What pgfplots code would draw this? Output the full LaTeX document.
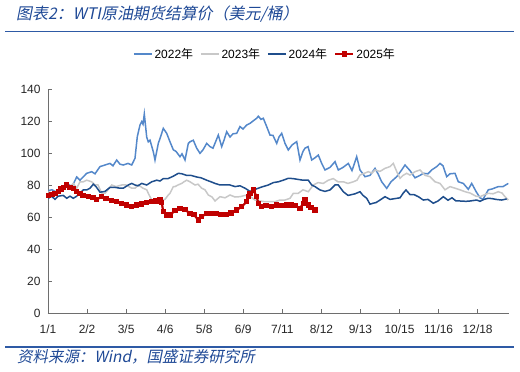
\documentclass[border=0pt]{standalone}
\usepackage{fontspec}
\setmainfont{Liberation Sans}
\newfontfamily\cjk{Noto Sans CJK SC}
\newfontfamily\cjkit[FakeSlant=0.2]{Noto Sans CJK SC}
\usepackage{pgfplots}
\pgfplotsset{compat=1.18}

\definecolor{c22}{RGB}{84,136,202}
\definecolor{c23}{RGB}{200,200,200}
\definecolor{c24}{RGB}{31,78,140}
\definecolor{c25}{RGB}{192,0,0}
\definecolor{titleblue}{RGB}{31,73,150}
\definecolor{rulecol}{RGB}{46,90,165}
\definecolor{axisgray}{RGB}{110,110,110}

\begin{document}
\begin{tikzpicture}
\begin{axis}[
  at={(48bp,59bp)}, anchor=south west,
  scale only axis, width=461bp, height=224bp,
  xmin=0, xmax=461, ymin=0, ymax=140,
  axis x line*=bottom, axis y line*=left,
  axis line style={axisgray, line width=0.8bp},
  tick style={axisgray, line width=0.8bp},
  tick align=inside, major tick length=4bp,
  ytick={0,20,...,140},
  xtick={0,39.06,78.12,117.18,156.24,195.3,234.36,273.42,312.48,351.54,390.6,429.66},
  xticklabels={1/1,2/2,3/5,4/6,5/8,6/9,7/11,8/12,9/13,10/15,11/16,12/18},
  ticklabel style={font=\fontsize{12}{14}\selectfont, text=black!85},
  xticklabel shift=8bp, yticklabel shift=4bp,
  /pgf/number format/assume math mode=true,
  legend style={at={(0.4707,1.156)}, anchor=center, draw=none, fill=none,
    legend columns=4, font=\fontsize{12}{14}\selectfont,
    /tikz/every even column/.append style={column sep=5bp}},
  legend image code/.code={\draw[mark repeat=2,mark phase=2,#1] plot coordinates {(0bp,0bp) (9bp,0bp) (18bp,0bp)};},
]
\addplot[c22, line width=1.5bp] coordinates {
(0.3,76.5) (4,77) (10,75) (15,77) (18.7,81) (24,79) (28.7,85) (32,83) (38.7,87.3) (43.7,88.3)
(47,87) (52,91.5) (57,92.5) (62,93.5) (65,92) (68.7,95.6) (72,93) (75.3,92.5) (80,93.5) (83.7,92.5)
(87,96.7) (89.3,110.2) (92,117.5) (93.7,119.6) (95,118) (96.3,124.4) (98.7,110) (100.3,107) (102,108) (105.3,100.8)
(107,95.6) (110.3,106) (112.5,110) (115.3,115.4) (118.7,112.3) (122,107) (125.3,102) (128,101) (132,97.7) (134,99.5)
(137,95.6) (140.3,106) (142,107) (145.3,108) (148.7,103) (152,99.8) (155,102) (158.7,106) (162,104) (165,103)
(170.3,111.2) (173.7,104) (176,108) (178.7,113.3) (182,110) (185,112) (188.7,112.3) (192,116.5) (195,115) (198.7,117.5)
(202,118.5) (205,120) (208.7,121.7) (210.3,123) (213,121) (215.3,121.7) (218.7,116.5) (222,111.2) (225,111) (228.7,106)
(231,110) (233.7,112.3) (237,106) (240.3,101.9) (244,105) (248.7,107.1) (252,95.6) (255,101) (257,103) (260,104)
(263.7,95.6) (267,97) (270.3,98.7) (273.7,93.5) (277,89.4) (282,91) (287,94.6) (290.3,89.4) (295,91) (300.3,93.5)
(304,89) (308.7,97.7) (312,89.4) (317,85.2) (322,86) (327,90.4) (330,87) (333.7,82) (338.7,77.9) (343,82)
(348.7,85.2) (353.7,89.4) (357,92.5) (362,89) (367,84.5) (372,86) (375.3,87.3) (380,87) (383.7,89.4) (388.7,91.5)
(392,93.5) (395,92) (398.7,85.2) (402,87) (407,87.3) (410.3,82) (415.3,81) (420.3,77.3) (423.7,81) (428,76)
(432,72) (435,71) (440.3,77) (444,77.5) (450.3,79) (455,79) (460.3,81)
};
\addlegendentry{2022{\cjk 年}}
\addplot[c23, line width=1.5bp] coordinates {
(0.3,75.8) (5,74.8) (10,77) (14,78) (18.7,80) (22,79) (25.3,81) (28.7,78) (32,82) (35.3,82)
(38.7,83) (43.7,82) (47,80) (50,80) (53.7,75) (57,74.8) (60,77) (63.7,80) (68,79) (73.7,80)
(78,80) (83.7,78) (87,78) (90.3,80) (95,78) (98.7,77) (100.3,74.8) (103.7,70.6) (107,68.6) (110,68.6)
(113.7,70.6) (117,71) (120.3,73.75) (122,74.8) (125.3,79) (127,79) (130,80) (133.7,81) (136,82) (138.7,83)
(142,82) (147,80) (150,80.5) (153.7,78) (157,77) (160.3,73.75) (164,72.5) (167,70) (172,72.7) (177,72)
(182,73.75) (187,72.5) (192,72.7) (197,73.5) (202,73) (207,70.6) (212,70) (217,69.6) (222,69.6) (227,69.6)
(232,70.6) (237,70.6) (242,71.7) (245.3,74.8) (250.3,74.8) (255,77) (260.3,75.8) (265.3,80) (270,81.5) (275.3,81)
(280.3,83) (285.3,84) (290,82) (295.3,82) (300,81) (305.3,82) (309,83) (312,86.2) (317,87.5) (320.3,88.3)
(324,87.5) (327,89.4) (332,88.5) (337,90.4) (342,91.5) (345.3,93.5) (349,88) (352,84.2) (355,86) (358.7,87.3)
(362,86.2) (367,88.3) (372,89.4) (377,86) (382,85.2) (387,82) (392,81) (397,77) (402,79) (407,78)
(412,77) (417,75.8) (422,75) (428,73) (432,72.7) (436,73.8) (440.3,74.8) (445,74.5) (450.3,75.8) (454,75)
(457,72.7) (460.3,70.6)
};
\addlegendentry{2023{\cjk 年}}
\addplot[c24, line width=1.5bp] coordinates {
(0.3,71.7) (3.7,73) (7,71) (10,73) (15.3,73.5) (18.7,71.7) (22,73) (25.3,71.7) (28.7,73) (32,75)
(35.3,76.9) (39,77) (42,78) (45.3,80.5) (48,79) (52,75.5) (57,76) (62,78.5) (67,78.5) (72,78)
(75.3,78) (80.3,80) (83.7,81) (87,80) (90,79.5) (93.7,81) (98.7,80) (103.7,82) (108.7,83) (112,82.5)
(115.3,84) (120,84) (125.3,85.5) (130.3,87.3) (134,87) (138.7,86) (143,86) (148.7,85) (153,84.5) (158.7,83)
(163,82) (167,81) (172,80) (177,80) (182,80) (187,79) (192,79.5) (197,78) (202,76) (206,77)
(210.3,78) (215,79) (220.3,80) (225.3,81.5) (230.3,82) (235.3,83) (240.3,84.2) (245,84) (250,83.5) (255,83)
(260.3,83) (263.7,80) (267,79) (272,76.9) (277,76) (282,76.9) (287,80) (290.3,80) (295.3,75.8) (300,73.5)
(302,73.75) (307,74.5) (312,75.8) (315,73.5) (318.7,71.7) (322,68) (325,68.6) (328,69) (332,70.6) (337,72.7)
(342,71) (347,71.5) (352,72) (355.3,75) (358,76.9) (362,74) (366,74) (370.3,72.7) (375.3,70.6) (380,71)
(385.3,68.6) (390,70) (395.3,72.7) (400,70.5) (404,72) (408,70) (412,70) (418,69.8) (422,70) (428.7,70.6)
(432,69.8) (436,71) (440,71.7) (444,71.5) (448,71) (453.7,70.6) (458.7,71.3)
};
\addlegendentry{2024{\cjk 年}}
\addplot[c25, line width=2.2bp, mark=square*, mark size=1.5bp, mark options={solid, fill=c25, draw=c25}] coordinates {
(0.3,73.5) (4,74) (7,74.5) (10.3,76) (13,77.5) (15.3,78.5) (18.7,80) (22,78.5) (25.3,78) (28.7,75.8)
(32,74.5) (35,73.5) (40.3,72.7) (45,72) (48.7,71) (53.7,72.7) (58,71.5) (63.7,70.3) (68.7,69.6) (73.7,68.6)
(78.7,67.5) (83.7,66.4) (88.7,67.5) (93.7,68.1) (98.7,69) (103.7,69.6) (108,70) (112,70.6) (113.7,69) (115.3,63.3)
(118.7,61.25) (122,61.3) (127,64) (132,65.4) (137,64.5) (142,62.3) (146,61.5) (150.3,58.1) (153.7,60.2) (158.7,62.3)
(163,62.3) (168.7,62.3) (173,61.5) (178.7,61.5) (183,62.5) (188.7,64.4) (193.7,66.4) (198.7,69.6) (200.3,72.7) (202,74.8)
(205.3,76.9) (208.7,72.7) (210.3,68.6) (213.7,66.4) (218,67) (223.7,66.4) (228.7,67.5) (233,67) (238.7,67.5) (243,67.5)
(247,67) (252,65.4) (255.3,68.6) (257,70.6) (260.3,67.5) (263,66) (267,64.4)
};
\addlegendentry{2025{\cjk 年}}
\end{axis}
\node[anchor=west, text=titleblue, font=\cjkit\fontsize{16}{18}\selectfont, inner sep=0pt] at (16bp,358bp) {图表2：WTI原油期货结算价（美元/桶）};
\draw[rulecol, line width=1.6bp] (5bp,340.5bp) -- (514bp,340.5bp);
\draw[rulecol, line width=1.6bp] (5bp,25bp) -- (514bp,25bp);
\node[anchor=west, text=titleblue, font=\cjkit\fontsize{15.5}{17}\selectfont, inner sep=0pt] at (17bp,15bp) {资料来源：Wind，国盛证券研究所};
\pgfresetboundingbox
\path[use as bounding box] (0bp,0bp) rectangle (520bp,372bp);
\end{tikzpicture}
\end{document}
